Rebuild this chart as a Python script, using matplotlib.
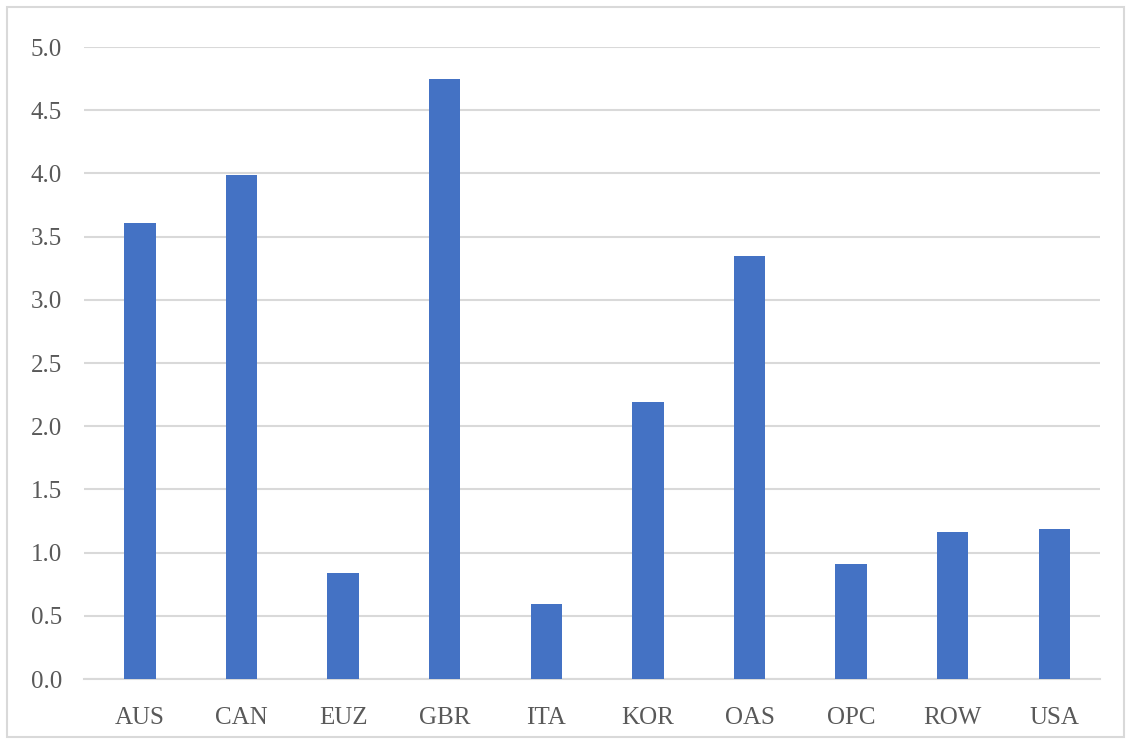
import numpy as np
import matplotlib.pyplot as plt
from matplotlib.patches import Rectangle

regiones = ['AUS', 'CAN', 'EUZ', 'GBR', 'ITA', 'KOR', 'OAS', 'OPC', 'ROW', 'USA']
valores = [3.61, 3.99, 0.84, 4.75, 0.59, 2.19, 3.35, 0.91, 1.16, 1.19]
ticks_y = np.arange(0, 5.01, 0.5)

plt.rcParams['font.family'] = ['Liberation Serif', 'DejaVu Serif']

fig = plt.figure(figsize=(11.33, 7.47), dpi=100)
ax = fig.add_axes([84/1133, 1 - 679/747, (1100-84)/1133, (679-47)/747])

x = np.arange(len(regiones))
ax.bar(x, valores, width=0.31, color='#4472C4', zorder=3)

ax.set_xlim(-0.55, 9.45)
ax.set_ylim(0, 5.0)
ax.set_yticks(ticks_y)
ax.set_yticklabels([f'{v:.1f}' for v in ticks_y])
ax.set_xticks(x)
ax.set_xticklabels(regiones)
ax.tick_params(axis='both', length=0, labelsize=18, colors='#595959')
ax.tick_params(axis='y', pad=16)
ax.tick_params(axis='x', pad=20)
ax.grid(axis='y', color='#D9D9D9', linewidth=1.5, zorder=0)
ax.set_axisbelow(True)
for s in ['top', 'right', 'left']:
    ax.spines[s].set_visible(False)
ax.spines['bottom'].set_color('#D9D9D9')
ax.spines['bottom'].set_linewidth(1.5)

# marco exterior
fig.patches.append(Rectangle((7/1133, 10/747), 1117/1133, 730/747, transform=fig.transFigure,
                             fill=False, edgecolor='#D9D9D9', linewidth=1.5))

fig.savefig('out.png', dpi=100)
